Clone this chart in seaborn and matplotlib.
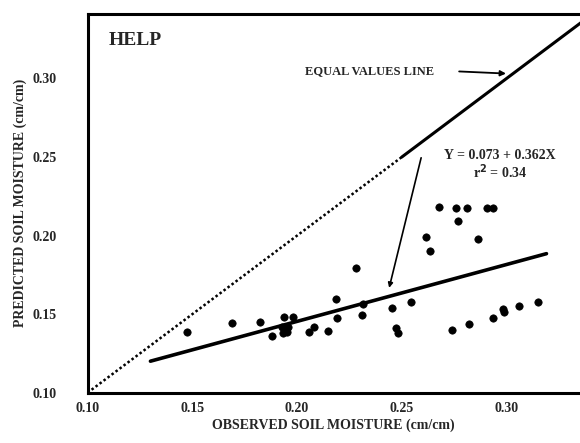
import numpy as np
import pandas as pd
import matplotlib
matplotlib.use("Agg")
import matplotlib.pyplot as plt
import seaborn as sns

# Observed vs predicted soil moisture
observed = [0.1473, 0.1690, 0.1823, 0.1879, 0.1937, 0.1926, 0.1950, 0.1934,
            0.1956, 0.1981, 0.2056, 0.2079, 0.2148, 0.2187, 0.2192, 0.2280,
            0.2308, 0.2316, 0.2453, 0.2474, 0.2480, 0.2545, 0.2616, 0.2633,
            0.2679, 0.2739, 0.2759, 0.2810, 0.2766, 0.2819, 0.2865, 0.2906,
            0.2934, 0.2936, 0.2983, 0.2987, 0.3057, 0.3151]
predicted = [0.1388, 0.1445, 0.1448, 0.1361, 0.1484, 0.1420, 0.1388, 0.1378,
             0.1418, 0.1480, 0.1388, 0.1420, 0.1393, 0.1596, 0.1473, 0.1795,
             0.1494, 0.1564, 0.1537, 0.1410, 0.1378, 0.1579, 0.1989, 0.1903,
             0.2180, 0.1399, 0.2173, 0.2173, 0.2094, 0.1437, 0.1978, 0.2173,
             0.2173, 0.1473, 0.1531, 0.1513, 0.1552, 0.1579]

# regression shown on the chart
intercept = 0.073
slope = 0.362
fit_range = [0.130, 0.319]

equal_dotted = [0.10, 0.25]
equal_solid = [0.25, 0.336]

x_ticks = [0.10, 0.15, 0.20, 0.25, 0.30]
y_ticks = [0.10, 0.15, 0.20, 0.25, 0.30]

df = pd.DataFrame({"observed": observed, "predicted": predicted})
fit = pd.DataFrame({"x": fit_range})
fit["y"] = intercept + slope * fit["x"]

sns.set_style("white")
plt.rcParams["font.family"] = ["Liberation Serif", "DejaVu Serif"]
plt.rcParams["font.weight"] = "bold"

fig = plt.figure(figsize=(5.8, 4.43), dpi=100)
ax = fig.add_axes([0.151, 0.1135, 0.849, 0.855])

# equal values line (dotted lower part, solid upper part)
sns.lineplot(x=equal_dotted, y=equal_dotted, ax=ax, color="black", lw=1.8,
             linestyle=(0, (1, 1)))
sns.lineplot(x=equal_solid, y=equal_solid, ax=ax, color="black", lw=2.2)

# regression line
sns.lineplot(data=fit, x="x", y="y", ax=ax, color="black", lw=2.6)

sns.scatterplot(data=df, x="observed", y="predicted", ax=ax, color="black",
                s=28, edgecolor="black", linewidth=0.5, zorder=3)

ax.set_xlim(0.10, 0.335)
ax.set_ylim(0.10, 0.341)
ax.set_xticks(x_ticks)
ax.set_yticks(y_ticks)
ax.set_xticklabels([f"{t:.2f}" for t in x_ticks])
ax.set_yticklabels([f"{t:.2f}" for t in y_ticks])
ax.tick_params(axis="x", direction="in", length=5, width=1.2, pad=7, labelsize=10)
ax.tick_params(axis="y", direction="in", length=3, width=1.0, pad=22, labelsize=10)

for side in ["left", "bottom", "top"]:
    ax.spines[side].set_linewidth(2.2)
    ax.spines[side].set_color("black")
ax.spines["right"].set_visible(False)

ax.set_xlabel("OBSERVED SOIL MOISTURE (cm/cm)", fontsize=10, fontweight="bold",
              labelpad=2)
ax.set_ylabel("PREDICTED SOIL MOISTURE (cm/cm)", fontsize=10, fontweight="bold",
              labelpad=4)

ax.text(0.110, 0.324, "HELP", fontsize=14, va="center", ha="left")

ax.annotate("", xy=(0.301, 0.303), xytext=(0.276, 0.3045),
            arrowprops=dict(arrowstyle="-|>", color="black", lw=1.3,
                            mutation_scale=8))
ax.text(0.2655, 0.3045, "EQUAL VALUES LINE", fontsize=9, ha="right", va="center")

ax.annotate("", xy=(0.2436, 0.1650), xytext=(0.2595, 0.2512),
            arrowprops=dict(arrowstyle="-|>", color="black", lw=1.2,
                            mutation_scale=7))
ax.text(0.2968, 0.2511, f"Y = {intercept:.3f} + {slope:.3f}X", fontsize=10,
        ha="center", va="center")
ax.text(0.2968, 0.2404, r"r$^{2}$ = 0.34", fontsize=10, ha="center", va="center")

plt.savefig("out.png", dpi=100)
